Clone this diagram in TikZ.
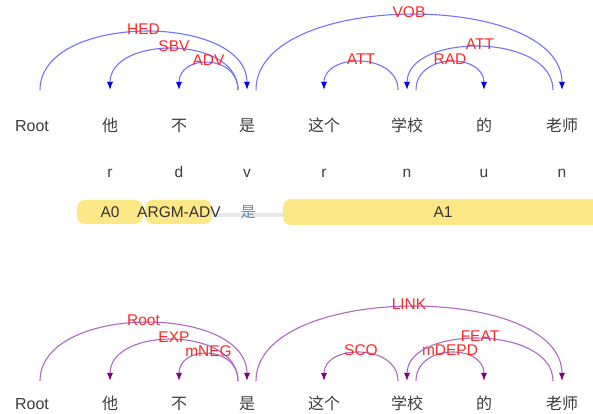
\documentclass[tikz,border=0pt]{standalone}
\usepackage{fontspec}
\setmainfont{Liberation Sans}
\newfontfamily\cjk{Noto Sans CJK SC}
\usetikzlibrary{arrows.meta}

\definecolor{wordgray}{RGB}{60,60,60}
\definecolor{arcblue}{RGB}{115,115,255}
\definecolor{tipblue}{RGB}{0,0,235}
\definecolor{arcpurple}{RGB}{175,105,195}
\definecolor{tippurple}{RGB}{128,0,128}
\definecolor{labred}{RGB}{255,40,40}
\definecolor{srlyellow}{RGB}{253,232,135}
\definecolor{predgray}{RGB}{232,232,232}
\definecolor{predblue}{RGB}{105,135,175}

\tikzset{
	word/.style={text=wordgray, inner sep=0pt, anchor=base, font=\fontsize{16}{16}\selectfont},
	cjkword/.style={word, font=\cjk\fontsize{16}{16}\selectfont},
	postag/.style={word, font=\fontsize{15.5}{15.5}\selectfont},
	deplabel/.style={text=labred, inner sep=0pt, yshift=-3pt, font=\fontsize{15.5}{15.5}\selectfont},
	deparc/.style={arcblue, line width=1.1pt, -{Latex[length=8pt,width=6pt,color=tipblue]}},
	semarc/.style={arcpurple, line width=1.1pt, -{Latex[length=8pt,width=6pt,color=tippurple]}},
	argbox/.style={srlyellow, rounded corners=8pt},
	argtext/.style={text=black!80, inner sep=0pt, anchor=base, font=\fontsize{15.5}{15.5}\selectfont}
}

\begin{document}
\begin{tikzpicture}[x=1pt, y=1pt]
	\useasboundingbox (0,0) rectangle (593,414);
	\coordinate (topbase) at (0,324);
	\coordinate (sembase) at (0,33);

	% dependency parse: words, tags and arcs
	\node[word] (root) at (32,282) {Root};
	\foreach \n/\x/\w in {ta/110/他, bu/179/不, shi/247/是, zhege/324/这个, xuexiao/407/学校, de/484/的, laoshi/562/老师}
		\node[cjkword] (\n) at (\x,282) {\w};
	\foreach \n/\t in {ta/r, bu/d, shi/v, zhege/r, xuexiao/n, de/u, laoshi/n}
		\node[postag] (\n-pos) at (\n |- 0,236) {\t};
	\foreach \n in {root,ta,bu,shi,zhege,xuexiao,de,laoshi}
		\coordinate (\n-b) at (\n |- topbase);
	\foreach \h/\s/\d/\ht/\lab in {root/8/shi/58/HED, shi/-9/ta/41/SBV, shi/-9/bu/27/ADV,
			shi/9/laoshi/75/VOB, xuexiao/-9/zhege/28/ATT, xuexiao/9/de/28/RAD, laoshi/-9/xuexiao/43/ATT}
		\draw[deparc] ([xshift=\s pt]\h-b) .. controls +(0,4*\ht/3) and +(0,4*\ht/3) .. (\d-b)
			node[deplabel, pos=.5] (\lab-\h-\d) {\lab};

	% semantic roles of the predicate
	\fill[predgray] (212,197) rectangle (283,201);
	\fill[argbox] (77,190) rectangle (143,214);
	\fill[argbox] (145,190) rectangle (212,214);
	\fill[argbox] (283,189) rectangle (603,215);
	\node[argtext] (arg0) at (110,196) {A0};
	\node[argtext] (argmadv) at (179,196) {ARGM-ADV};
	\node[argtext] (arg1) at (443,196) {A1};
	\node[text=predblue, inner sep=0pt, font=\cjk\fontsize{15}{15}\selectfont] (pred) at (248,202) {是};

	% semantic dependency graph
	\node[word] (sroot) at (32,5) {Root};
	\foreach \n/\x/\w in {sta/110/他, sbu/179/不, sshi/247/是, szhege/324/这个, sxuexiao/407/学校, sde/484/的, slaoshi/562/老师}
		\node[cjkword] (\n) at (\x,5) {\w};
	\foreach \n in {sroot,sta,sbu,sshi,szhege,sxuexiao,sde,slaoshi}
		\coordinate (\n-b) at (\n |- sembase);
	\foreach \h/\s/\d/\ht/\lab in {sroot/8/sshi/58/Root, sshi/-9/sta/41/EXP, sshi/-9/sbu/27/mNEG,
			sshi/9/slaoshi/74/LINK, sxuexiao/-9/szhege/28/SCO, sxuexiao/9/sde/28/mDEPD, slaoshi/-9/sxuexiao/42/FEAT}
		\draw[semarc] ([xshift=\s pt]\h-b) .. controls +(0,4*\ht/3) and +(0,4*\ht/3) .. (\d-b)
			node[deplabel, pos=.5] (\lab-\h-\d) {\lab};
\end{tikzpicture}
\end{document}
